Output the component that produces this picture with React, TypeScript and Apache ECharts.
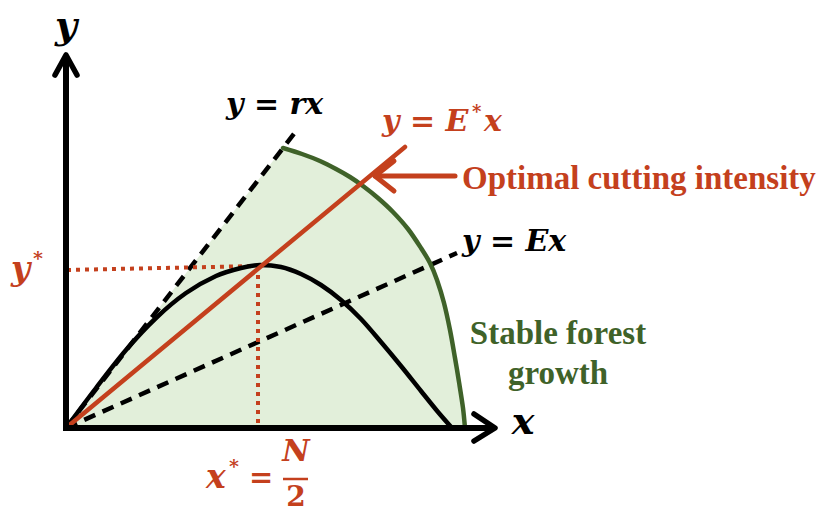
import React, { useEffect, useRef } from "react";
import * as echarts from "echarts";

// Pixel-aligned value space: 1 unit = 1 px, origin of the diagram at (66, 428)
const X_MIN = -66;
const X_MAX = 756;
const Y_MIN = -87;
const Y_MAX = 428;

const RX_LINE = [[0, 0], [231, 298]];
const EX_LINE = [[0, 0], [391, 175]];
const ESTAR_LINE = [[0, 0], [339, 281]];

const GROWTH_CURVE = [
  [0, 0], [30, 40], [60, 78], [90, 110], [120, 135], [150, 152], [175, 160],
  [194, 163], [215, 161], [235, 154], [255, 143], [275, 128], [295, 109],
  [315, 86], [335, 62], [355, 37], [372, 16], [386, 0],
];

const BOUNDARY_CURVE = [
  [217, 280], [236, 274], [254, 267], [270, 259], [284, 251], [297, 242],
  [312, 230], [327, 216], [342, 199], [355, 180], [364, 165], [371, 148],
  [378, 125], [384, 98], [389, 70], [393, 46], [397, 20], [399, 0],
];

const YSTAR_GUIDE = [[1, 158], [192, 162]];
const XSTAR_GUIDE = [[192, 162], [192, 0]];

const ARROW_SHAFT = [[389, 252], [309, 252]];
const ARROW_HEAD = [[328, 267], [309, 252], [328, 237]];

const X_AXIS = [[-3, 0], [428, 0]];
const X_AXIS_HEAD = [[408, 14], [429, 0], [408, -13]];
const Y_AXIS = [[0, -3], [0, 372]];
const Y_AXIS_HEAD = [[-11, 353], [0, 373], [11, 353]];

const RED = "#c4401d";
const GREEN = "#3f6229";
const FILL = "#e2efda";
const MATH_FONT = '"DejaVu Serif", serif';
const TEXT_FONT = '"Liberation Serif", "Times New Roman", serif';

function lineSeries(data: number[][], color: string, width: number, type: any = "solid", smooth: any = false, z = 3, cap = "round") {
  return {
    type: "line",
    data,
    showSymbol: false,
    symbol: "none",
    smooth,
    clip: false,
    silent: true,
    z,
    lineStyle: { color, width, type, cap, join: "round" },
  };
}

function txt(x: number, y: number, text: string, font: string, fill: string, align = "left") {
  return {
    type: "text",
    x,
    y,
    silent: true,
    style: {
      text,
      font,
      fill,
      align,
      textAlign: align,
      verticalAlign: "middle",
      textVerticalAlign: "middle",
    },
  };
}

export default function App() {
  const ref = useRef<HTMLDivElement>(null);
  useEffect(() => {
    document.body.style.margin = "0";
    const chart = echarts.init(ref.current!, null, { renderer: "svg" });
    const areaData = [[0, 0], ...BOUNDARY_CURVE];
    chart.setOption({
      animation: false,
      backgroundColor: "#ffffff",
      grid: { left: 0, right: 0, top: 0, bottom: 0 },
      xAxis: { type: "value", min: X_MIN, max: X_MAX, show: false },
      yAxis: { type: "value", min: Y_MIN, max: Y_MAX, show: false },
      series: [
        {
          type: "line",
          data: areaData,
          showSymbol: false,
          symbol: "none",
          silent: true,
          clip: false,
          z: 1,
          lineStyle: { width: 0, opacity: 0 },
          areaStyle: { color: FILL, opacity: 1, origin: 0 },
        },
        lineSeries(RX_LINE, "#000000", 4.5, [12, 8], false, 3, "butt"),
        lineSeries(EX_LINE, "#000000", 4.5, [12, 8], false, 3, "butt"),
        lineSeries(GROWTH_CURVE, "#000000", 4.5, "solid", 0.3, 4),
        lineSeries(BOUNDARY_CURVE, GREEN, 4.5, "solid", 0.3, 4),
        lineSeries(YSTAR_GUIDE, RED, 4, [4, 5], false, 3, "butt"),
        lineSeries(XSTAR_GUIDE, RED, 4, [4, 5], false, 3, "butt"),
        lineSeries(ESTAR_LINE, RED, 4.5, "solid", false, 5),
        lineSeries(ARROW_SHAFT, RED, 5, "solid", false, 5),
        lineSeries(ARROW_HEAD, RED, 5, "solid", false, 5),
        lineSeries(X_AXIS, "#000000", 6, "solid", false, 6, "butt"),
        lineSeries(X_AXIS_HEAD, "#000000", 5.5, "solid", false, 6),
        lineSeries(Y_AXIS, "#000000", 6, "solid", false, 6, "butt"),
        lineSeries(Y_AXIS_HEAD, "#000000", 5.5, "solid", false, 6),
      ],
      graphic: [
        txt(66, 24, "y", `italic bold 38px ${MATH_FONT}`, "#000000", "center"),
        txt(523, 420, "x", `italic bold 38px ${MATH_FONT}`, "#000000", "center"),
        txt(226, 103, "y = rx", `italic bold 30px ${MATH_FONT}`, "#000000"),
        txt(382, 120, "y = E", `italic bold 30px ${MATH_FONT}`, RED),
        txt(472, 111, "*", `bold 18px ${MATH_FONT}`, RED),
        txt(484, 120, "x", `italic bold 30px ${MATH_FONT}`, RED),
        txt(462, 240, "y = Ex", `italic bold 30px ${MATH_FONT}`, "#000000"),
        txt(249, 232, "P", `italic bold 33px ${MATH_FONT}`, RED),
        txt(278, 221, "*", `bold 19px ${MATH_FONT}`, RED),
        txt(11, 268, "y", `italic bold 33px ${MATH_FONT}`, RED),
        txt(33, 258, "*", `bold 19px ${MATH_FONT}`, RED),
        txt(206, 476, "x", `italic bold 33px ${MATH_FONT}`, RED),
        txt(229, 466, "*", `bold 19px ${MATH_FONT}`, RED),
        txt(249, 477, "=", `bold 29px ${MATH_FONT}`, RED),
        txt(296, 450, "N", `italic bold 30px ${MATH_FONT}`, RED, "center"),
        {
          type: "line",
          silent: true,
          shape: { x1: 283, y1: 479, x2: 308, y2: 479 },
          style: { stroke: RED, lineWidth: 2.5 },
        },
        txt(296, 496, "2", `bold 28px ${MATH_FONT}`, RED, "center"),
        txt(462, 178, "Optimal cutting intensity", `bold 33px ${TEXT_FONT}`, RED),
        txt(558, 333, "Stable forest", `bold 33px ${TEXT_FONT}`, GREEN, "center"),
        txt(558, 373, "growth", `bold 33px ${TEXT_FONT}`, GREEN, "center"),
      ],
    });
    return () => chart.dispose();
  }, []);
  return (
    <div
      ref={ref}
      style={{ position: "fixed", left: 0, top: 0, width: 822, height: 515 }}
    />
  );
}
